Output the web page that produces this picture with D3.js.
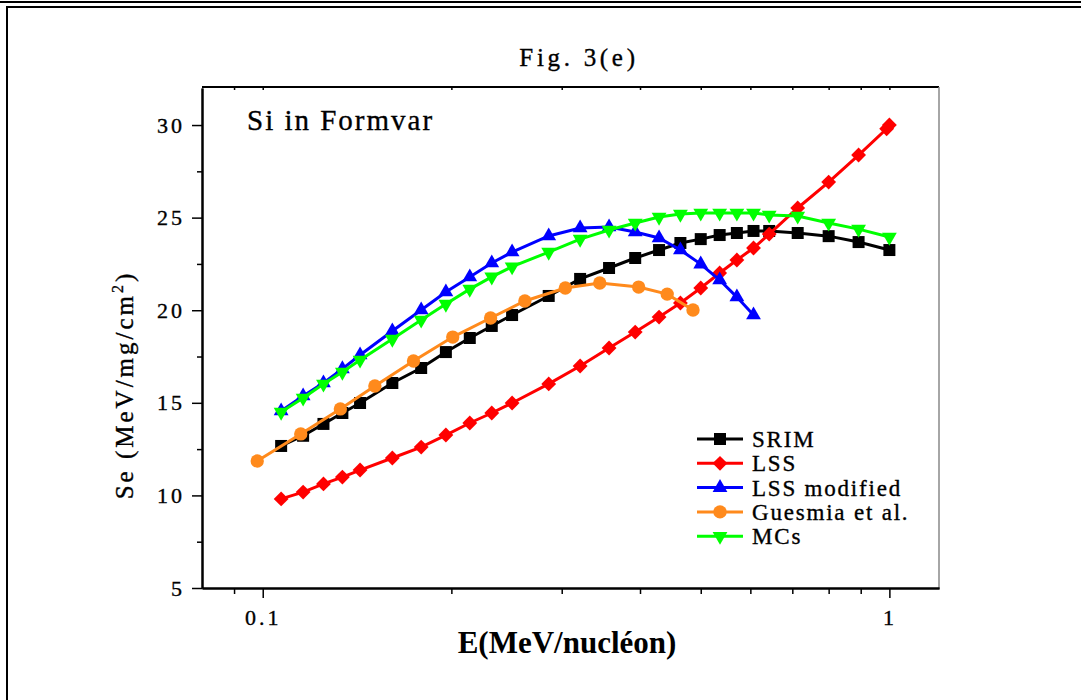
<!DOCTYPE html>
<html>
<head>
<meta charset="utf-8">
<script src="https://d3js.org/d3.v7.min.js"></script>
<style>
  body { margin: 0; background: #fff; }
  text { font-family: "Liberation Serif", "Times New Roman", serif; }
  text.reg { stroke: #000; stroke-width: 0.35px; }
</style>
</head>
<body>
<svg id="chart" width="1081" height="700"></svg>
<script>
// energies (MeV/nucleon) shared by SRIM, LSS, LSS modified and MCs
const energy = [0.107, 0.116, 0.125, 0.134, 0.143, 0.161, 0.179, 0.196, 0.214, 0.232, 0.25, 0.286, 0.321,
  0.357, 0.393, 0.429, 0.464, 0.5, 0.536, 0.571, 0.607, 0.643, 0.714, 0.8, 0.893, 1.0];
const srim = [12.67, 13.22, 13.86, 14.45, 14.99, 16.07, 16.88, 17.74, 18.5, 19.15, 19.74, 20.77, 21.69,
  22.28, 22.82, 23.25, 23.63, 23.84, 24.06, 24.17, 24.28, 24.28, 24.17, 24.0, 23.68, 23.25];
const lssE = [0.107, 0.116, 0.125, 0.134, 0.143, 0.161, 0.179, 0.196, 0.214, 0.232, 0.25, 0.286, 0.321,
  0.357, 0.393, 0.429, 0.464, 0.5, 0.536, 0.571, 0.607, 0.643, 0.714, 0.8, 0.893, 0.99, 1.0];
const lss = [9.81, 10.18, 10.62, 10.99, 11.37, 12.02, 12.61, 13.26, 13.91, 14.45, 14.99, 16.02, 16.99,
  17.96, 18.82, 19.63, 20.39, 21.2, 22.01, 22.71, 23.36, 24.11, 25.52, 26.92, 28.38, 29.8, 30.0];
const lssMod = [14.56, 15.37, 16.07, 16.83, 17.58, 18.88, 20.01, 20.98, 21.79, 22.55, 23.14, 24.01, 24.44,
  24.49, 24.22, 23.9, 23.25, 22.49, 21.63, 20.71, 19.74];
const guesmiaE = [0.098, 0.115, 0.133, 0.151, 0.174, 0.201, 0.231, 0.262, 0.304, 0.345, 0.398, 0.442, 0.486];
const guesmia = [11.86, 13.32, 14.67, 15.91, 17.26, 18.55, 19.58, 20.5, 21.2, 21.47, 21.25, 20.87, 20.01];
const mcs = [14.5, 15.26, 16.02, 16.66, 17.31, 18.44, 19.47, 20.33, 21.14, 21.8, 22.35, 23.14, 23.84,
  24.33, 24.71, 25.03, 25.19, 25.25, 25.25, 25.25, 25.25, 25.14, 25.09, 24.71, 24.38, 23.95];

const xMajor = [0.1, 1];
const xMinor = [0.09, 0.2, 0.3, 0.4, 0.5, 0.6, 0.7, 0.8, 0.9];
const yMajor = [5, 10, 15, 20, 25, 30];
const yMinor = [7.5, 12.5, 17.5, 22.5, 27.5];

const series = [
  { name: "SRIM", xs: energy, ys: srim, color: "#000000", shape: "square" },
  { name: "LSS", xs: lssE, ys: lss, color: "#ff0000", shape: "diamond" },
  { name: "LSS modified", xs: energy, ys: lssMod, color: "#0000ff", shape: "up" },
  { name: "Guesmia et al.", xs: guesmiaE, ys: guesmia, color: "#ff8a1c", shape: "circle" },
  { name: "MCs", xs: energy, ys: mcs, color: "#00ff00", shape: "down" }
];

const svg = d3.select("#chart");
const L = 202, R = 939, T = 88, B = 588;

const x = d3.scaleLog().domain([0.08, 1.2]).range([L, R]);
const y = d3.scaleLinear().domain([5, 32]).range([B, T]);

// page frame
svg.append("rect").attr("x", 0).attr("y", 1).attr("width", 1081).attr("height", 2).attr("fill", "#000");
svg.append("rect").attr("x", 6).attr("y", 6).attr("width", 1075).attr("height", 2).attr("fill", "#000");
svg.append("rect").attr("x", 6).attr("y", 6).attr("width", 2).attr("height", 694).attr("fill", "#000");

// plot box: top and right
svg.append("line").attr("x1", L).attr("x2", R).attr("y1", T - 1).attr("y2", T - 1)
  .attr("stroke", "#000").attr("stroke-width", 2);
svg.append("line").attr("x1", R).attr("x2", R).attr("y1", T - 1).attr("y2", B)
  .attr("stroke", "#888").attr("stroke-width", 1.5);

function styleAxis(g) {
  g.attr("font-family", null);
  g.select(".domain").attr("stroke-width", 2);
  g.selectAll(".tick line").attr("stroke-width", 1.5);
  g.selectAll("text").attr("class", "reg").attr("font-size", 22).attr("letter-spacing", 3).attr("fill", "#000");
}

svg.append("g").attr("transform", `translate(0,${B})`)
  .call(d3.axisBottom(x).tickValues(xMinor).tickFormat("").tickSize(6).tickSizeOuter(0))
  .call(styleAxis);
svg.append("g").attr("transform", `translate(0,${B})`)
  .call(d3.axisBottom(x).tickValues(xMajor).tickFormat(d3.format("")).tickSize(10).tickPadding(11).tickSizeOuter(0))
  .call(styleAxis);

// top ticks, inward
svg.append("g").attr("transform", `translate(0,${T - 1})`)
  .call(d3.axisBottom(x).tickValues(xMajor.concat(xMinor)).tickFormat("").tickSize(3).tickSizeOuter(0))
  .call(g => g.select(".domain").remove())
  .call(g => g.selectAll(".tick line").attr("stroke-width", 1.5));

svg.append("g").attr("transform", `translate(${L},0)`)
  .call(d3.axisLeft(y).tickValues(yMinor).tickFormat("").tickSize(5).tickSizeOuter(0))
  .call(styleAxis);
svg.append("g").attr("transform", `translate(${L},0)`)
  .call(d3.axisLeft(y).tickValues(yMajor).tickFormat(d3.format("d")).tickSize(10).tickPadding(7).tickSizeOuter(0))
  .call(styleAxis);

// markers
function symbolPath(shape) {
  if (shape === "square") return d3.symbol(d3.symbolSquare, 144)();
  if (shape === "diamond") return d3.symbol(d3.symbolSquare, 110)();
  if (shape === "circle") return d3.symbol(d3.symbolCircle, 140)();
  return d3.symbol(d3.symbolTriangle, 95)();
}
function symbolRotate(shape) {
  if (shape === "diamond") return 45;
  if (shape === "down") return 180;
  return 0;
}

const line = d3.line().x(d => x(d[0])).y(d => y(d[1]));

series.forEach(s => {
  const pts = s.ys.map((v, i) => [s.xs[i], v]);
  const g = svg.append("g");
  g.append("path").datum(pts).attr("d", line)
    .attr("fill", "none").attr("stroke", s.color).attr("stroke-width", 3);
  g.selectAll("path.m").data(pts).enter().append("path").attr("class", "m")
    .attr("d", symbolPath(s.shape))
    .attr("transform", d => `translate(${x(d[0])},${y(d[1])}) rotate(${symbolRotate(s.shape)})`)
    .attr("fill", s.color);
});

// legend
const leg = svg.append("g").attr("transform", "translate(697,439)");
series.forEach((s, i) => {
  const row = leg.append("g").attr("transform", `translate(0,${i * 24.3})`);
  row.append("line").attr("x1", 0).attr("x2", 46).attr("stroke", s.color).attr("stroke-width", 3);
  row.append("path").attr("d", symbolPath(s.shape))
    .attr("transform", `translate(23,0) rotate(${symbolRotate(s.shape)})`).attr("fill", s.color);
  row.append("text").attr("class", "reg").attr("x", 55).attr("y", 8).attr("font-size", 23)
    .attr("letter-spacing", 1.8).text(s.name);
});

// titles
svg.append("text").attr("class", "reg").attr("x", 579).attr("y", 66).attr("text-anchor", "middle")
  .attr("font-size", 25).attr("letter-spacing", 3.7).text("Fig. 3(e)");
svg.append("text").attr("class", "reg").attr("x", 247).attr("y", 130)
  .attr("font-size", 29).attr("letter-spacing", 2).text("Si in Formvar");
svg.append("text").attr("x", 567).attr("y", 653).attr("text-anchor", "middle")
  .attr("font-size", 31).attr("font-weight", "bold").text("E(MeV/nucléon)");

const yl = svg.append("text").attr("class", "reg").attr("transform", "translate(133,385) rotate(-90)")
  .attr("text-anchor", "middle").attr("font-size", 25).attr("letter-spacing", 3);
yl.append("tspan").text("Se (MeV/mg/cm");
yl.append("tspan").attr("font-size", 16).attr("dy", -10).text("2");
yl.append("tspan").attr("dy", 10).text(")");
</script>
</body>
</html>
